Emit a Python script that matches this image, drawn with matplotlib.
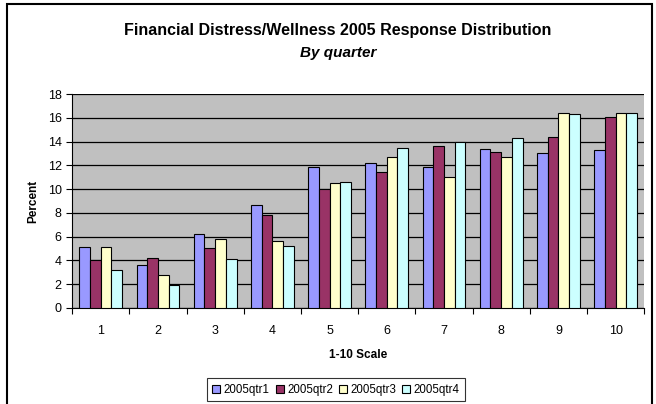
# Financial Distress/Wellness 2005 - rozklad odpowiedzi wg kwartalu

import numpy as np
import matplotlib
matplotlib.use("Agg")
import matplotlib.pyplot as plt
from matplotlib.patches import Rectangle

plt.rcParams['font.family'] = ['Liberation Sans', 'DejaVu Sans']

# Dane
scale = [1, 2, 3, 4, 5, 6, 7, 8, 9, 10]
qtr1 = [5.1, 3.6, 6.2, 8.7, 11.9, 12.2, 11.9, 13.4, 13.0, 13.3]
qtr2 = [4.0, 4.2, 5.0, 7.8, 10.0, 11.4, 13.6, 13.1, 14.4, 16.1]
qtr3 = [5.1, 2.8, 5.8, 5.6, 10.5, 12.7, 11.0, 12.7, 16.4, 16.4]
qtr4 = [3.2, 1.9, 4.1, 5.2, 10.6, 13.5, 14.0, 14.3, 16.3, 16.4]
series = ["2005qtr1", "2005qtr2", "2005qtr3", "2005qtr4"]
colors = ["#9999FF", "#993366", "#FFFFCC", "#CCFFFF"]


###########################################
fig = plt.figure(figsize=(6.56, 4.04), dpi=100)
ax = fig.add_axes([0.110, 0.238, 0.872, 0.529])
ax.set_facecolor("#C0C0C0")

x = np.arange(len(scale))
w = 0.187
for i, (vals, name, c) in enumerate(zip([qtr1, qtr2, qtr3, qtr4], series, colors)):
    ax.bar(x + (i - 1.5) * w, vals, width=w, color=c, edgecolor="black",
           linewidth=0.8, label=name, zorder=3)

ax.set_xlim(-0.5, len(scale) - 0.5)
ax.set_ylim(0, 18)
ax.set_yticks(np.arange(0, 19, 2))
ax.yaxis.grid(True, color="black", linewidth=0.9, zorder=1)
ax.set_axisbelow(True)

# ticks osi X na granicach grup, etykiety w srodku
ax.set_xticks(np.arange(-0.5, len(scale), 1.0))
ax.set_xticklabels([])
ax.set_xticks(x, minor=True)
ax.set_xticklabels([str(s) for s in scale], minor=True)
ax.tick_params(axis="x", which="minor", length=0, pad=12, labelsize=9)
ax.tick_params(axis="x", which="major", direction="out", length=4, width=0.8)
ax.tick_params(axis="y", direction="out", length=4, width=0.8, labelsize=9)

for side in ["top", "right"]:
    ax.spines[side].set_visible(False)
ax.spines["left"].set_linewidth(0.8)
ax.spines["bottom"].set_linewidth(0.8)

ax.set_xlabel("1-10 Scale", fontsize=8.5, fontweight="bold", labelpad=9)
ax.set_ylabel("Percent", fontsize=8.5, fontweight="bold", labelpad=6)

fig.text(0.515, 0.925, "Financial Distress/Wellness 2005 Response Distribution",
         ha="center", va="center", fontsize=11.5, fontweight="bold")
fig.text(0.515, 0.870, "By quarter", ha="center", va="center",
         fontsize=11, fontweight="bold", style="italic")

leg = fig.legend(loc="lower center", bbox_to_anchor=(0.512, 0.008), ncol=4,
                 fontsize=8.3, frameon=True, fancybox=False, edgecolor="black",
                 handlelength=0.7, handleheight=0.7, handletextpad=0.3,
                 columnspacing=0.5, borderpad=0.45, borderaxespad=0.0)
leg.get_frame().set_linewidth(0.8)

# ramka wokol wykresu
fig.patches.append(Rectangle((0.011, -0.05), 0.983, 1.04, transform=fig.transFigure,
                             fill=False, edgecolor="black", linewidth=1.5))

fig.savefig("out.png", dpi=100)
